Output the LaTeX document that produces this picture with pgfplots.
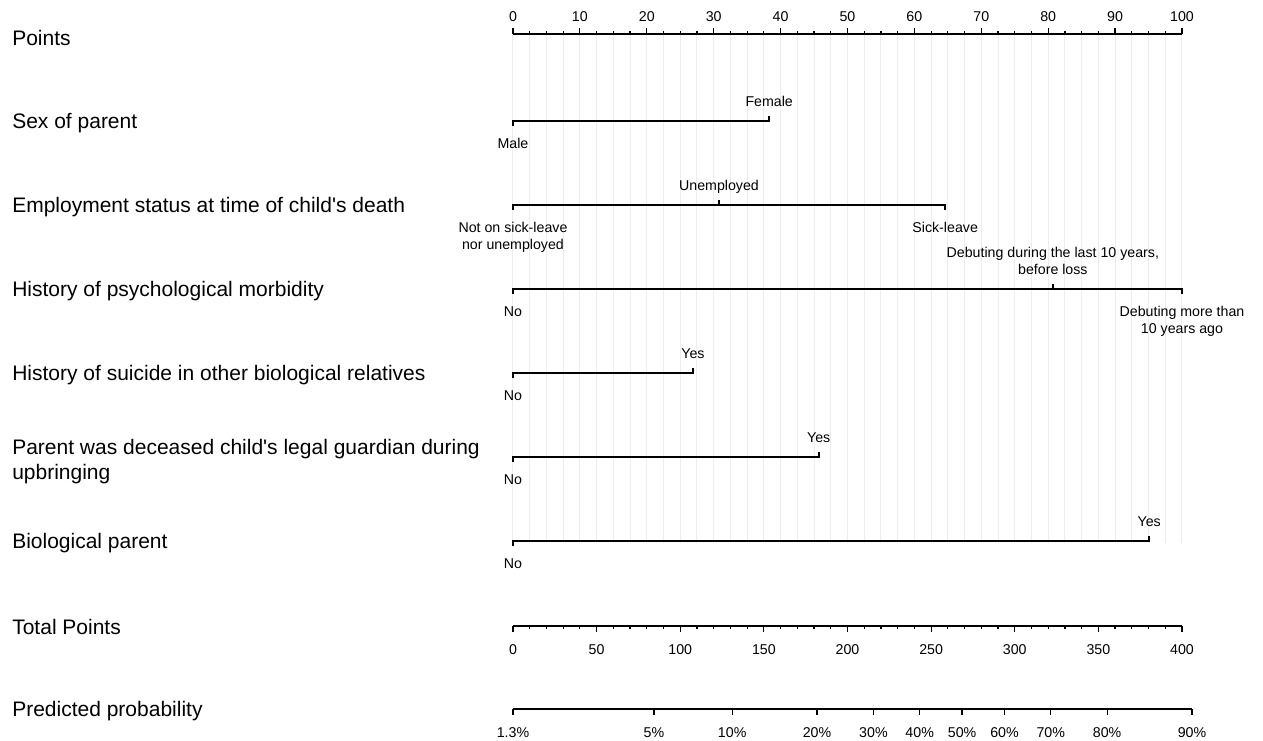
\documentclass[border=0pt]{standalone}
\usepackage{fontspec}
\setmainfont{Liberation Sans}
\usepackage{pgfplots}
\pgfplotsset{compat=1.18}
\begin{document}
\begin{tikzpicture}[
  lab/.style={font=\fontsize{10.5}{12.5}\selectfont, anchor=west, inner sep=0pt, text height=7.5pt, text depth=0pt},
  lev/.style={font=\fontsize{7.1}{8.5}\selectfont, anchor=center, inner sep=0pt, text height=5.1pt, text depth=0pt},
]
\pgfplotsset{
  nomo/.style={
    scale only axis, axis y line=none,
    every non boxed x axis/.append style={x axis line style={-}, xtick align=outside},
    x axis line style={-, line width=0.9pt},
    tick align=outside, major tick length=2.9pt, minor tick length=1.4pt,
    xtick style={black, line width=0.6pt},
    xticklabel style={font=\fontsize{7.1}{8.5}\selectfont, inner sep=0pt, text height=5.1pt, text depth=0pt},
    /pgf/number format/assume math mode=true,
    clip=false,
  }
}
% ---------- Points axis and variable rows ----------
\begin{axis}[nomo,
  width=334.5pt, height=254.5pt,
  at={(256.5pt,98.5pt)}, anchor=south west,
  xmin=0, xmax=100, ymin=197, ymax=706,
  axis x line=top,
  xtick={0,10,...,100}, minor x tick num=3,
  xticklabel style={yshift=3pt},
  xmajorgrids, xminorgrids,
  major grid style={black!7, line width=0.5pt},
  minor grid style={black!7, line width=0.5pt},
]
\path (axis cs:-76.68,0) rectangle (axis cs:112.11,740);
% Sex of parent
\addplot[black, line width=0.9pt] coordinates {(0,614) (0,619) (38.3,619) (38.3,624)};
% Employment status
\addplot[black, line width=0.9pt] coordinates {(0,530) (0,535) (64.6,535) (64.6,530)};
\addplot[black, line width=0.9pt] coordinates {(30.8,535) (30.8,540)};
% Psychological morbidity
\addplot[black, line width=0.9pt] coordinates {(0,446) (0,451) (100,451) (100,446)};
\addplot[black, line width=0.9pt] coordinates {(80.7,451) (80.7,456)};
% Suicide in relatives
\addplot[black, line width=0.9pt] coordinates {(0,362) (0,367) (26.9,367) (26.9,372)};
% Legal guardian
\addplot[black, line width=0.9pt] coordinates {(0,278) (0,283) (45.7,283) (45.7,288)};
% Biological parent
\addplot[black, line width=0.9pt] coordinates {(0,194) (0,199) (95.1,199) (95.1,204)};

% level labels
\node[lev] at (axis cs:38.3,639) {Female};
\node[lev] at (axis cs:0,597) {Male};
\node[lev] at (axis cs:30.8,555) {Unemployed};
\node[lev] at (axis cs:0,513) {Not on sick-leave};
\node[lev] at (axis cs:0,496) {nor unemployed};
\node[lev] at (axis cs:64.6,513) {Sick-leave};
\node[lev] at (axis cs:80.7,488) {Debuting during the last 10 years,};
\node[lev] at (axis cs:80.7,471) {before loss};
\node[lev] at (axis cs:0,429) {No};
\node[lev] at (axis cs:100,429) {Debuting more than};
\node[lev] at (axis cs:100,412) {10 years ago};
\node[lev] at (axis cs:26.9,387) {Yes};
\node[lev] at (axis cs:0,345) {No};
\node[lev] at (axis cs:45.7,303) {Yes};
\node[lev] at (axis cs:0,261) {No};
\node[lev] at (axis cs:95.1,219) {Yes};
\node[lev] at (axis cs:0,177) {No};

% row labels
\node[lab] at (axis cs:-74.9,702) {Points};
\node[lab] at (axis cs:-74.9,619) {Sex of parent};
\node[lab] at (axis cs:-74.9,535) {Employment status at time of child\textquotesingle s death};
\node[lab] at (axis cs:-74.9,451) {History of psychological morbidity};
\node[lab] at (axis cs:-74.9,367) {History of suicide in other biological relatives};
\node[lab] at (axis cs:-74.9,293) {Parent was deceased child\textquotesingle s legal guardian during};
\node[lab] at (axis cs:-74.9,268) {upbringing};
\node[lab] at (axis cs:-74.9,199) {Biological parent};
\node[lab] at (axis cs:-74.9,113) {Total Points};
\node[lab] at (axis cs:-74.9,31) {Predicted probability};
\end{axis}
% ---------- Total points axis ----------
\begin{axis}[nomo,
  width=334.5pt, height=2pt,
  at={(256.5pt,57pt)}, anchor=south west,
  xmin=0, xmax=400, ymin=0, ymax=1,
  axis x line=bottom,
  xtick={0,50,...,400}, minor x tick num=4,
  xticklabel style={yshift=-6pt},
]
\addplot[draw=none] coordinates {(0,0) (400,0)};
\end{axis}
% ---------- Predicted probability axis ----------
\begin{axis}[nomo,
  width=339.5pt, height=2pt,
  at={(256.5pt,15.5pt)}, anchor=south west,
  xmin=0, xmax=101.48, ymin=0, ymax=1,
  axis x line=bottom,
  xtick={0,21.07,32.76,45.44,53.87,60.78,67.12,73.46,80.37,88.80,101.48},
  xticklabels={1.3\%,5\%,10\%,20\%,30\%,40\%,50\%,60\%,70\%,80\%,90\%},
  xticklabel style={yshift=-6pt},
]
\addplot[draw=none] coordinates {(0,0) (101.48,0)};
\end{axis}
\end{tikzpicture}
\end{document}
